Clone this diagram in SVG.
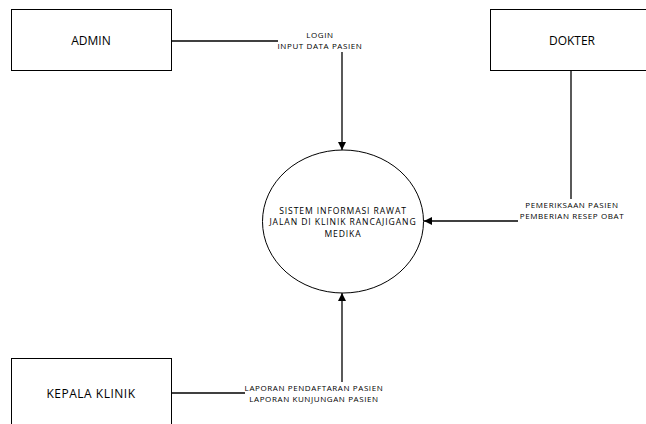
<svg xmlns="http://www.w3.org/2000/svg" width="646" height="424" viewBox="0 0 646 424">
<style>
.box{fill:#fff;stroke:#000;stroke-width:1}
.ln{fill:none;stroke:#000;stroke-width:1.3}
.ent{font-family:"Open Sans","Liberation Sans",sans-serif;font-size:12px;text-anchor:middle;fill:#000}
.lbl{font-family:"Open Sans","Liberation Sans",sans-serif;font-size:8px;letter-spacing:0.6px;text-anchor:middle;fill:#000}
.prc{font-family:"Open Sans","Liberation Sans",sans-serif;font-size:8.6px;letter-spacing:0.9px;text-anchor:middle;fill:#000}
</style>
<defs>
<marker id="arr" viewBox="0 0 10 10" refX="10" refY="5" markerWidth="8" markerHeight="8" markerUnits="userSpaceOnUse" orient="auto">
<path d="M0,0 L10,5 L0,10 z" fill="#000"/>
</marker>
</defs>
<rect width="646" height="424" fill="#fff"/>
<g id="connectors">
<polyline class="ln" points="172,41 278,41"/>
<polyline class="ln" points="342,52 342,150" marker-end="url(#arr)"/>
<polyline class="ln" points="571,70 571,199"/>
<polyline class="ln" points="518,221 424,221" marker-end="url(#arr)"/>
<polyline class="ln" points="172,393 245,393"/>
<polyline class="ln" points="342,382 342,293" marker-end="url(#arr)"/>
<text class="lbl" x="320" y="38">LOGIN</text>
<text class="lbl" x="320" y="48.5">INPUT DATA PASIEN</text>
<text class="lbl" x="572" y="207.5">PEMERIKSAAN PASIEN</text>
<text class="lbl" x="572" y="219">PEMBERIAN RESEP OBAT</text>
<text class="lbl" x="314" y="391">LAPORAN PENDAFTARAN PASIEN</text>
<text class="lbl" x="314" y="402">LAPORAN KUNJUNGAN PASIEN</text>
</g>
<g id="admin">
<rect class="box" x="11.5" y="9.5" width="160" height="61"/>
<text class="ent" x="91" y="44.5">ADMIN</text>
</g>
<g id="dokter">
<rect class="box" x="490.5" y="9.5" width="160" height="61"/>
<text class="ent" x="572" y="44.5">DOKTER</text>
</g>
<g id="kepala-klinik">
<rect class="box" x="11.5" y="358.5" width="160" height="70"/>
<text class="ent" x="91" y="398" letter-spacing="0.5">KEPALA KLINIK</text>
</g>
<g id="sistem">
<ellipse class="box" cx="343" cy="221.5" rx="80.5" ry="71.5"/>
<text class="prc" x="343" y="213.5">SISTEM INFORMASI RAWAT</text>
<text class="prc" x="343" y="225">JALAN DI KLINIK RANCAJIGANG</text>
<text class="prc" x="343" y="236.5">MEDIKA</text>
</g>
</svg>
